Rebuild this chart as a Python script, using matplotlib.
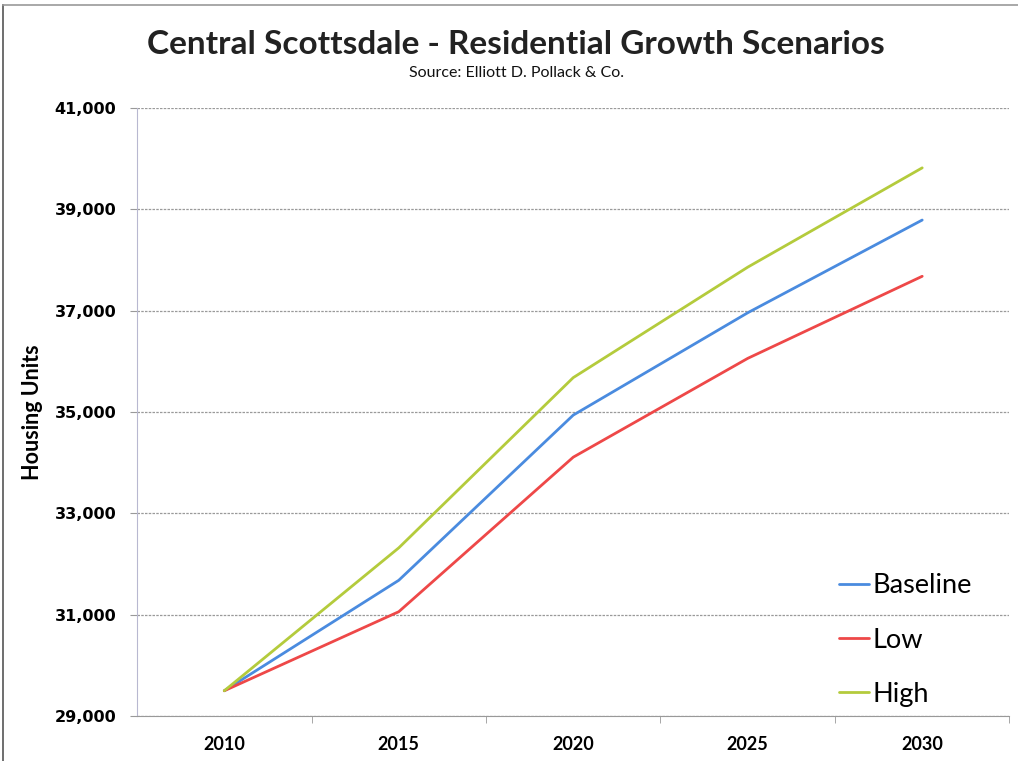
import matplotlib.pyplot as plt
from matplotlib.ticker import FuncFormatter, FixedLocator

# data
years = ['2010', '2015', '2020', '2025', '2030']
baseline = [29500, 31680, 34940, 36960, 38790]
low = [29500, 31060, 34110, 36060, 37680]
high = [29500, 32320, 35680, 37860, 39820]

series = [('Baseline', baseline, '#4A8BDF'),
          ('Low', low, '#EE4848'),
          ('High', high, '#B4CB3C')]

fig = plt.figure(figsize=(10.18, 7.61), dpi=100, facecolor='white')
ax = fig.add_axes([0.1346, 0.059, 0.857, 0.799])

x = list(range(len(years)))
for name, vals, col in series:
    ax.plot(x, vals, color=col, linewidth=2.0, label=name, solid_capstyle='round')

ax.set_xlim(-0.5, len(years) - 0.5)
ax.set_ylim(29000, 41000)
ax.set_yticks(range(29000, 41001, 2000))
ax.yaxis.set_major_formatter(FuncFormatter(lambda v, p: f'{int(v):,}'))
ax.grid(axis='y', color='#9a9a9a', linewidth=0.9, linestyle=(0, (2, 1)))
ax.set_axisbelow(True)

ax.set_xticks(x)
ax.set_xticklabels(years, fontfamily='Lato', fontweight='bold', fontsize=13)
ax.xaxis.set_minor_locator(FixedLocator([i + 0.5 for i in x]))
ax.tick_params(axis='x', which='major', length=0, pad=14)
ax.tick_params(axis='x', which='minor', length=5, color='#999999', direction='out')
ax.tick_params(axis='y', length=5, color='#999999', labelsize=11.5, pad=10)
for lab in ax.get_yticklabels():
    lab.set_fontweight('bold')

for s in ['top', 'right']:
    ax.spines[s].set_visible(False)
ax.spines['left'].set_color('#b8b8d0')
ax.spines['bottom'].set_color('#999999')

ax.set_ylabel('Housing Units', fontfamily='Lato', fontweight='bold', fontsize=15.5, labelpad=8)

fig.text(0.507, 0.941, 'Central Scottsdale - Residential Growth Scenarios',
         ha='center', va='center', fontfamily='Lato', fontweight='bold',
         fontsize=24, color='#222222')
fig.text(0.507, 0.904, 'Source: Elliott D. Pollack & Co.',
         ha='center', va='center', fontfamily='Lato', fontsize=11.5, color='#111111')

leg = ax.legend(loc='lower right', bbox_to_anchor=(0.985, -0.025), frameon=False,
                prop={'family': 'Lato', 'size': 19.5}, handlelength=1.1,
                handletextpad=0.15, labelspacing=1.08)

# scanned page border
fig.add_artist(plt.Line2D([0.003, 0.003], [0.0, 0.993], color='#555555', linewidth=1.2))
fig.add_artist(plt.Line2D([0.003, 1.0], [0.993, 0.993], color='#999999', linewidth=1.2))

plt.savefig('out.png', dpi=100)
